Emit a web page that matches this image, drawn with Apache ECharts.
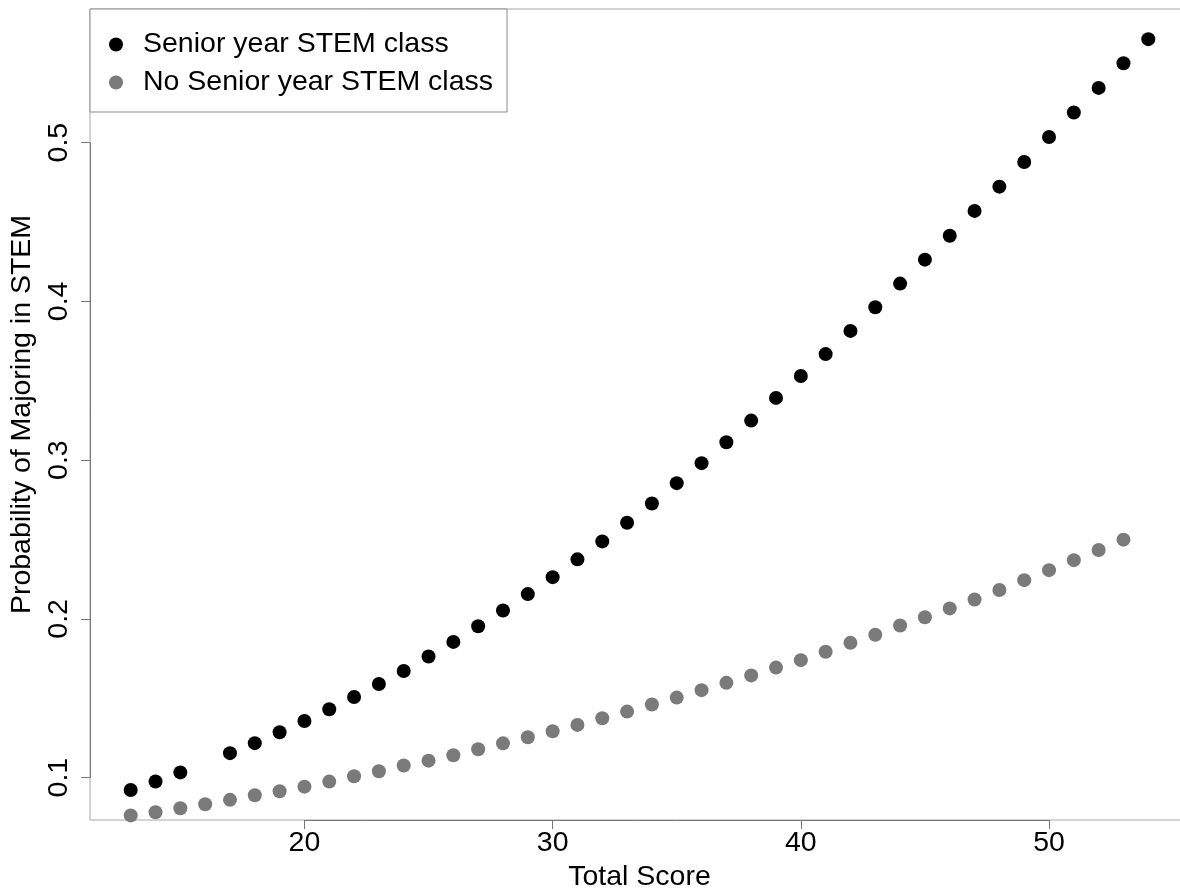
<!DOCTYPE html>
<html>
<head>
<meta charset="utf-8">
<title>Probability of Majoring in STEM</title>
<script src="https://cdn.jsdelivr.net/npm/echarts@6/dist/echarts.min.js"></script>
<style>
  html, body { margin: 0; padding: 0; background: #fff; }
  #chart { width: 1180px; height: 890px; }
</style>
</head>
<body>
<div id="chart"></div>
<script>
// Students who took a STEM class in senior year
const seniorScores = [13, 14, 15, 17, 18, 19, 20, 21, 22, 23, 24, 25, 26, 27, 28, 29, 30, 31, 32, 33,
  34, 35, 36, 37, 38, 39, 40, 41, 42, 43, 44, 45, 46, 47, 48, 49, 50, 51, 52, 53, 54];
const seniorProb = [0.0922, 0.0976, 0.1033, 0.1154, 0.1217, 0.1286, 0.1357, 0.1431, 0.1508, 0.1590,
  0.1672, 0.1763, 0.1855, 0.1954, 0.2053, 0.2156, 0.2263, 0.2375, 0.2488, 0.2606,
  0.2727, 0.2855, 0.2981, 0.3113, 0.3249, 0.3392, 0.3530, 0.3668, 0.3814, 0.3963,
  0.4112, 0.4263, 0.4414, 0.4570, 0.4723, 0.4878, 0.5036, 0.5190, 0.5345, 0.5500, 0.5652];

// Students without a senior-year STEM class
const noSeniorScores = [13, 14, 15, 16, 17, 18, 19, 20, 21, 22, 23, 24, 25, 26, 27, 28, 29, 30, 31, 32,
  33, 34, 35, 36, 37, 38, 39, 40, 41, 42, 43, 44, 45, 46, 47, 48, 49, 50, 51, 52, 53];
const noSeniorProb = [0.0762, 0.0782, 0.0807, 0.0832, 0.0860, 0.0889, 0.0914, 0.0943, 0.0975, 0.1009,
  0.1040, 0.1076, 0.1107, 0.1141, 0.1179, 0.1216, 0.1254, 0.1292, 0.1332, 0.1374,
  0.1416, 0.1461, 0.1504, 0.1551, 0.1597, 0.1644, 0.1693, 0.1740, 0.1793, 0.1849,
  0.1900, 0.1958, 0.2010, 0.2066, 0.2122, 0.2182, 0.2244, 0.2307, 0.2370, 0.2434, 0.2499];

const seriesNames = ['Senior year STEM class', 'No Senior year STEM class'];
const xTicks = [20, 30, 40, 50];
const yTicks = [0.1, 0.2, 0.3, 0.4, 0.5];
const xRange = [11.36, 55.64];
const yRange = [0.0733, 0.5842];

const FONT = "'Liberation Sans', Arial, Helvetica, sans-serif";
const FONT_SIZE = 28.5;
const zip = (xs, ys) => xs.map((x, i) => [x, ys[i]]);

const chart = echarts.init(document.getElementById('chart'), null, { renderer: 'canvas' });

chart.setOption({
  animation: false,
  backgroundColor: '#ffffff',
  textStyle: { fontFamily: FONT },
  grid: {
    left: 90, top: 9, width: 1099, height: 811,
    show: true, borderColor: '#a8a8a8', borderWidth: 1, backgroundColor: 'transparent',
    containLabel: false,
    outerBoundsMode: 'none'
  },
  legend: {
    orient: 'vertical',
    left: 90, top: 9,
    data: seriesNames,
    icon: 'circle',
    itemWidth: 44, itemHeight: 14,
    itemGap: 9,
    padding: [21, 14, 15, 19],
    backgroundColor: '#ffffff',
    borderColor: '#8c8c8c', borderWidth: 1, borderRadius: 0,
    textStyle: { fontFamily: FONT, fontSize: FONT_SIZE, color: '#000', lineHeight: 27 },
    selectedMode: false
  },
  xAxis: {
    type: 'value',
    min: xRange[0], max: xRange[1],
    name: 'Total Score',
    nameLocation: 'middle',
    nameGap: 41,
    nameTextStyle: { fontFamily: FONT, fontSize: FONT_SIZE, color: '#000' },
    axisLine: { show: false },
    axisTick: { show: true, length: 9, customValues: xTicks, lineStyle: { color: '#777', width: 1 } },
    axisLabel: { show: true, margin: 9, customValues: xTicks, fontFamily: FONT, fontSize: FONT_SIZE, color: '#000' },
    splitLine: { show: false }
  },
  yAxis: {
    type: 'value',
    min: yRange[0], max: yRange[1],
    name: 'Probability of Majoring in STEM',
    nameLocation: 'middle',
    nameGap: 49,
    nameTextStyle: { fontFamily: FONT, fontSize: FONT_SIZE, color: '#000' },
    axisLine: { show: false },
    axisTick: { show: true, length: 9, customValues: yTicks, lineStyle: { color: '#777', width: 1 } },
    axisLabel: { show: true, margin: 16, rotate: 90, customValues: yTicks, fontFamily: FONT, fontSize: FONT_SIZE, color: '#000' },
    splitLine: { show: false }
  },
  series: [
    {
      name: seriesNames[0],
      type: 'scatter',
      symbol: 'circle',
      symbolSize: 14,
      itemStyle: { color: '#000000', opacity: 1 },
      data: zip(seniorScores, seniorProb),
      z: 3,
      // axis segments spanning the first to last tick, drawn over the frame
      markLine: {
        silent: true,
        symbol: 'none',
        label: { show: false },
        lineStyle: { color: '#777', width: 1, type: 'solid' },
        data: [
          [{ coord: [xTicks[0], yRange[0]] }, { coord: [xTicks[xTicks.length - 1], yRange[0]] }],
          [{ coord: [xRange[0], yTicks[0]] }, { coord: [xRange[0], yTicks[yTicks.length - 1]] }]
        ]
      }
    },
    {
      name: seriesNames[1],
      type: 'scatter',
      symbol: 'circle',
      symbolSize: 14,
      itemStyle: { color: '#7a7a7a', opacity: 1 },
      data: zip(noSeniorScores, noSeniorProb),
      z: 2
    }
  ]
});
</script>
</body>
</html>
